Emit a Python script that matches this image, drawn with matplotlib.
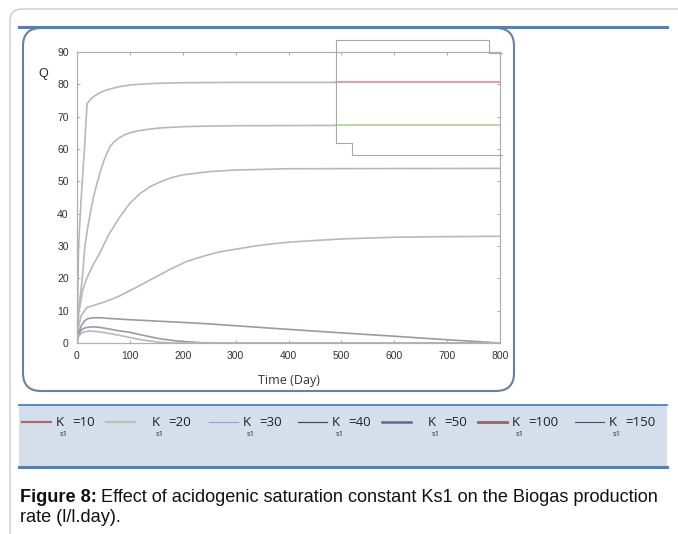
import matplotlib
matplotlib.use("Agg")
import matplotlib.pyplot as plt
from matplotlib.lines import Line2D
from matplotlib.patches import FancyBboxPatch, Rectangle
from matplotlib.transforms import Affine2D

W, H = 678, 534

# Biogas production rate Q vs time for the different Ks1 values
t_a = [0, 3, 8, 14, 19, 25, 32, 43, 55, 68, 81, 100, 125, 150, 200, 300, 490]
q_a = [0, 30, 45, 60, 74, 75.3, 76.3, 77.4, 78.2, 78.8, 79.3, 79.8, 80.1, 80.3, 80.5, 80.6, 80.6]
t_b = [0, 3, 10, 15, 20, 25, 31, 38, 44, 50, 56, 62, 70, 80, 90, 100, 115, 130, 157, 200, 250, 300, 490]
q_b = [0, 10, 20, 30, 35.5, 40, 45, 49.5, 53, 56, 58.5, 60.6, 62.2, 63.5, 64.4, 65, 65.6, 66, 66.5,
       66.9, 67.1, 67.2, 67.3]
t_c = [0, 3, 11, 19, 30, 43, 60, 81, 100, 119, 140, 160, 180, 200, 250, 300, 400, 800]
q_c = [0, 9, 16.5, 20.2, 24, 27.8, 33.5, 39, 43.2, 46.2, 48.5, 50, 51.2, 52, 53, 53.5, 53.9, 54]
t_d = [0, 3, 8, 19, 35, 50, 65, 81, 112, 144, 175, 207, 240, 270, 333, 365, 403, 450, 503, 600, 700, 800]
q_d = [0, 5, 8.5, 11, 11.8, 12.6, 13.5, 14.6, 17.2, 20, 22.7, 25.2, 26.9, 28.2, 29.9, 30.6, 31.2, 31.7,
       32.2, 32.7, 32.9, 33]
t_e = [0, 3, 8, 14, 20, 30, 45, 60, 100, 208, 251, 365, 503, 600, 700, 800]
q_e = [0, 3, 5.3, 6.8, 7.5, 7.8, 7.8, 7.6, 7.2, 6.3, 5.9, 4.6, 3.1, 2.1, 1.0, 0]
t_f = [0, 3, 8, 15, 28, 40, 55, 75, 100, 130, 157, 185, 208, 235, 260, 800]
q_f = [0, 2.5, 4, 4.7, 5.0, 4.9, 4.5, 3.9, 3.3, 2.2, 1.3, 0.7, 0.4, 0.1, 0, 0]
t_g = [0, 3, 8, 15, 25, 40, 60, 94, 115, 130, 157, 180, 800]
q_g = [0, 2, 3, 3.5, 3.7, 3.5, 3, 1.9, 1.2, 0.8, 0.2, 0, 0]

# plateau segments highlighted at the end of the run
t_hi = [490, 800]
q_red = [80.6, 80.6]
q_green = [67.3, 67.3]

x_ticks = [0, 100, 200, 300, 400, 500, 600, 700, 800]
y_ticks = [0, 10, 20, 30, 40, 50, 60, 70, 80, 90]

legend_vals = ["10", "20", "30", "40", "50", "100", "150"]
legend_colors = ["#a86a6a", "#b0c4b0", "#95a6d6", "#4a4a4a", "#5a6a8a", "#946464", "#4a4a4a"]
legend_widths = [1.6, 1.6, 0.9, 0.9, 1.8, 2.0, 0.8]
legend_x = [22, 106, 209, 298, 382, 478, 575]

plt.rcParams["font.family"] = ["Liberation Sans", "DejaVu Sans"]

fig = plt.figure(figsize=(W / 100, H / 100), dpi=100)
fig.patch.set_facecolor("white")

# pixel coordinates, origin at top-left
pix = Affine2D().scale(1 / W, -1 / H).translate(0, 1) + fig.transFigure


def hline(x0, x1, y, **kw):
    fig.add_artist(Line2D([x0, x1], [y, y], transform=pix, **kw))


def poly(xs, ys, **kw):
    fig.add_artist(Line2D(xs, ys, transform=pix, **kw))


# outer page frame
fig.add_artist(FancyBboxPatch((10, 9), 720, 560, boxstyle="round,pad=0,rounding_size=12",
                              transform=pix, fc="none", ec="#c4c4c4", lw=0.9, zorder=-3))
# chart panel
fig.add_artist(FancyBboxPatch((23, 28), 491, 363, boxstyle="round,pad=0,rounding_size=18",
                              transform=pix, fc="white", ec="#6b7f9e", lw=1.5, zorder=-2))
hline(19, 667, 27, color="#4f81bd", lw=2.2, zorder=-1)

# legend band
fig.add_artist(Rectangle((19, 405), 648, 62, transform=pix, fc="#d5dfec", ec="none", zorder=-2))
hline(19, 667, 405, color="#4f81bd", lw=1.3, zorder=-1)
hline(19, 667, 467, color="#4f81bd", lw=2.2, zorder=-1)

ax = fig.add_axes([77 / W, 1 - 343 / H, 423 / W, 291 / H])
ax.set_facecolor("none")

gray = "#b8b8b8"
dark = "#9c98aa"
ax.plot(t_a, q_a, color=gray, lw=1.2)
ax.plot(t_hi, q_red, color="#f08a8a", lw=1.2)
ax.plot(t_b, q_b, color=gray, lw=1.2)
ax.plot(t_hi, q_green, color="#a9d48a", lw=1.2)
ax.plot(t_c, q_c, color=gray, lw=1.2)
ax.plot(t_d, q_d, color=gray, lw=1.2)
ax.plot(t_e, q_e, color=dark, lw=1.2)
ax.plot(t_f, q_f, color=dark, lw=1.2)
ax.plot(t_g, q_g, color=gray, lw=1.2)

ax.set_xlim(0, 800)
ax.set_ylim(0, 90)
ax.set_xticks(x_ticks)
ax.set_yticks(y_ticks)
ax.tick_params(direction="in", length=2.5, width=0.6, color="#999999", labelsize=7.5,
               labelcolor="#333333", top=True, right=True, pad=6)
for s in ax.spines.values():
    s.set_color("#b0b0b0")
    s.set_linewidth(0.9)
ax.set_xlabel("Time (Day)", fontsize=9, color="#333333", family="Open Sans", labelpad=9)
fig.text(43 / W, 1 - 74 / H, "Q", fontsize=9, color="#222222", ha="center", va="center")

# box around the highlighted plateaus
poly([336, 489, 489, 502], [40, 40, 53, 53], color="#a8a8a8", lw=0.8)
poly([336, 336, 352, 352, 502], [40, 143, 143, 155, 155], color="#a8a8a8", lw=0.8)

# legend entries
for v, c, lw, x in zip(legend_vals, legend_colors, legend_widths, legend_x):
    hline(x, x + 29, 422, color=c, lw=lw)
    kx = x + 34 if v not in ("20", "50") else x + 46
    fig.text(kx / W, 1 - 422 / H, "K", fontsize=9.5, family="Open Sans", va="center", color="#222222")
    fig.text((kx + 4) / W, 1 - 435 / H, "s1", fontsize=5.5, family="Open Sans", va="center", color="#222222")
    fig.text((kx + 16) / W, 1 - 422 / H, "=" + v, fontsize=9.5, family="Open Sans", va="center", color="#222222")

# caption: bold lead-in followed by the description
cap_size = 13.1
lead = fig.text(20 / W, 1 - 498 / H, "Figure 8:", fontsize=cap_size, weight="bold", va="center",
                color="#111111")
renderer = fig.canvas.get_renderer()
lead_w = lead.get_window_extent(renderer).width
fig.text((20 + lead_w + 4) / W, 1 - 498 / H,
         "Effect of acidogenic saturation constant Ks1 on the Biogas production",
         fontsize=cap_size, va="center", color="#111111")
fig.text(20 / W, 1 - 518 / H, "rate (l/l.day).", fontsize=cap_size, va="center", color="#111111")

fig.savefig("out.png", dpi=100)
